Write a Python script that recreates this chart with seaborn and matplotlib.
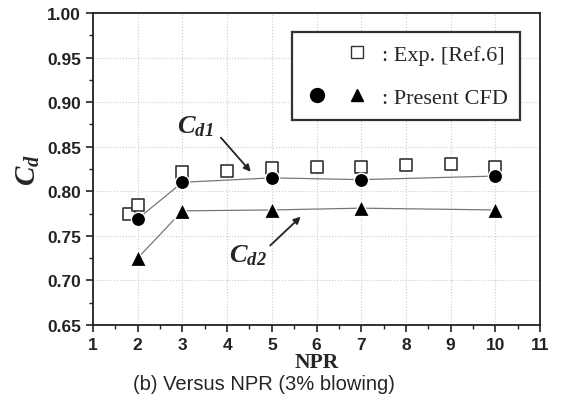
import seaborn as sns
import matplotlib.pyplot as plt
import pandas as pd
from matplotlib.lines import Line2D
from matplotlib.legend_handler import HandlerTuple

# Experimental data (open squares)
exp_npr = [1.8, 2, 3, 4, 5, 6, 7, 8, 9, 10]
exp_cd = [0.775, 0.784, 0.822, 0.823, 0.826, 0.827, 0.827, 0.829, 0.830, 0.827]

# Present CFD
cfd_npr = [2, 3, 5, 7, 10]
cd1 = [0.769, 0.810, 0.815, 0.813, 0.817]
cd2 = [0.725, 0.778, 0.779, 0.781, 0.779]

x_ticks = [1, 2, 3, 4, 5, 6, 7, 8, 9, 10, 11]
y_ticks = [0.65, 0.70, 0.75, 0.80, 0.85, 0.90, 0.95, 1.00]

exp_df = pd.DataFrame({"npr": exp_npr, "cd": exp_cd})
cfd_df = pd.DataFrame({"npr": cfd_npr, "cd1": cd1, "cd2": cd2})

sns.set_style("ticks")
plt.rcParams["font.family"] = ["Liberation Sans", "DejaVu Sans"]
plt.rcParams["mathtext.fontset"] = "custom"
plt.rcParams["mathtext.rm"] = "Liberation Serif"
plt.rcParams["mathtext.it"] = "Liberation Serif:italic"
plt.rcParams["mathtext.bf"] = "Liberation Serif:bold"
plt.rcParams["mathtext.bfit"] = "Liberation Serif:bold:italic"

fig = plt.figure(figsize=(5.61, 4.10), dpi=100)
ax = fig.add_axes([0.1658, 0.205, 0.7968, 0.761])

# lines through CFD points
sns.lineplot(data=cfd_df, x="npr", y="cd1", color="#777777", lw=0.9, ax=ax, zorder=2)
sns.lineplot(data=cfd_df, x="npr", y="cd2", color="#777777", lw=0.9, ax=ax, zorder=2)

# markers
sns.scatterplot(data=exp_df, x="npr", y="cd", marker="s", s=80, facecolor="white",
                edgecolor="#333333", linewidth=1.2, ax=ax, zorder=3)
sns.scatterplot(data=cfd_df, x="npr", y="cd1", marker="o", s=105, color="black",
                edgecolor="white", linewidth=1.0, ax=ax, zorder=4)
sns.scatterplot(data=cfd_df, x="npr", y="cd2", marker="^", s=135, color="black",
                edgecolor="white", linewidth=1.0, ax=ax, zorder=4)

ax.set_xlim(1, 11)
ax.set_ylim(0.65, 1.00)
ax.set_xticks(x_ticks)
ax.set_yticks(y_ticks)
ax.set_xticks([v + 0.5 for v in x_ticks[:-1]], minor=True)
ax.set_yticks([v + 0.025 for v in y_ticks[:-1]], minor=True)
ax.set_yticklabels([f"{v:.2f}" for v in y_ticks])
ax.tick_params(axis="both", which="major", direction="out", length=5, width=1.2,
               labelsize=12.5, colors="#222222")
ax.tick_params(axis="both", which="minor", direction="out", length=3, width=1.0,
               colors="#222222")
for lab in ax.get_xticklabels() + ax.get_yticklabels():
    lab.set_fontweight("bold")

ax.grid(True, which="major", color="#cccccc", linestyle=":", linewidth=0.8)
ax.set_axisbelow(True)
for sp in ax.spines.values():
    sp.set_visible(True)
    sp.set_linewidth(1.3)
    sp.set_color("#222222")

ax.set_xlabel("NPR", fontfamily="Liberation Serif", fontweight="bold", fontsize=15.5,
              labelpad=0)
ax.set_ylabel(r"$\mathbfit{C}_{\mathbfit{d}}$", fontsize=21, labelpad=4)

# annotations
ax.annotate("", xy=(4.57, 0.8195), xytext=(3.82, 0.8625),
            arrowprops=dict(arrowstyle="-|>", color="#222222", lw=1.3, mutation_scale=10))
ax.text(3.28, 0.873, r"$\mathbfit{C}_{\mathbfit{d1}}$", fontsize=19,
        ha="center", va="center")

ax.annotate("", xy=(5.69, 0.7735), xytext=(4.92, 0.737),
            arrowprops=dict(arrowstyle="-|>", color="#222222", lw=1.3, mutation_scale=10))
ax.text(4.47, 0.729, r"$\mathbfit{C}_{\mathbfit{d2}}$", fontsize=19,
        ha="center", va="center")

# legend
h_blank = Line2D([], [], ls="", marker="")
h_exp = Line2D([], [], marker="s", ls="", mfc="white", mec="#333333", ms=9, mew=1.0)
h_c = Line2D([], [], marker="o", ls="", color="black", ms=10)
h_t = Line2D([], [], marker="^", ls="", color="black", ms=9)
leg = ax.legend([(h_blank, h_exp), (h_c, h_t)], [": Exp. [Ref.6]", ": Present CFD"],
                handler_map={tuple: HandlerTuple(ndivide=None, pad=0.6)},
                loc="upper right", bbox_to_anchor=(0.955, 0.938), frameon=True,
                fancybox=False, framealpha=1, edgecolor="#333333",
                prop={"family": "Liberation Serif", "size": 16}, handlelength=3.0,
                handletextpad=0.5, labelspacing=1.0, borderpad=0.55,
                borderaxespad=0.0)
leg.get_frame().set_linewidth(1.6)

fig.text(0.47, 0.061, "(b) Versus NPR (3% blowing)", ha="center", va="center",
         fontsize=14.5, fontfamily="Liberation Sans")

fig.savefig("out.png", dpi=100)
